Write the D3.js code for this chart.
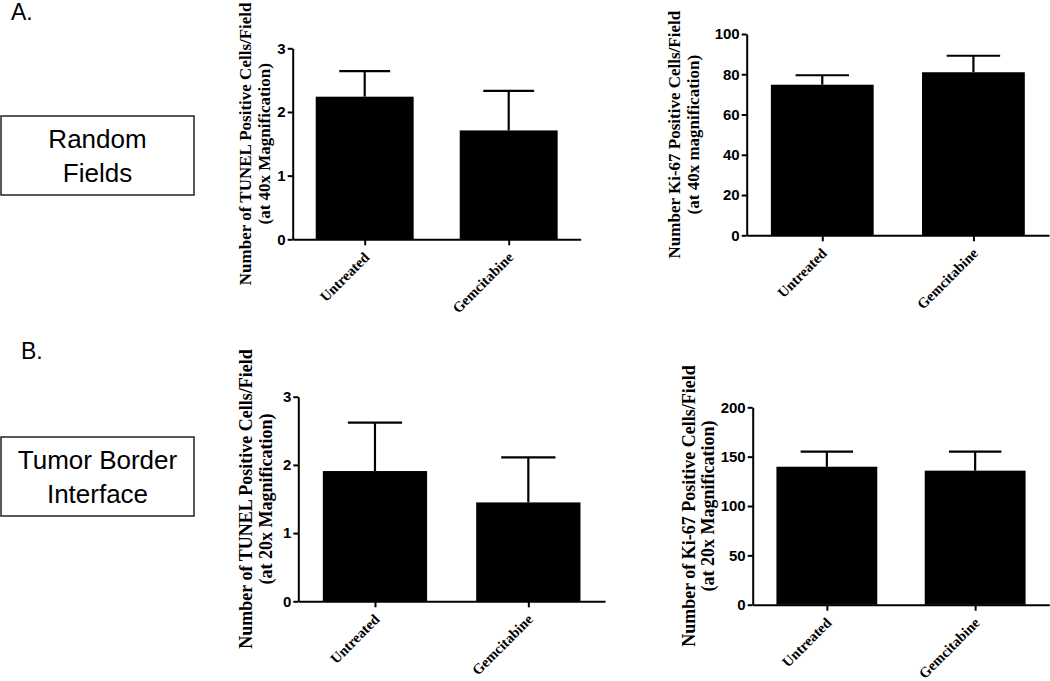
<!DOCTYPE html>
<html>
<head>
<meta charset="utf-8">
<script src="https://cdn.jsdelivr.net/npm/d3@7"></script>
<style>
  body { margin: 0; background: #fff; }
  .y.axis text { font-family: "Liberation Sans", Arial, sans-serif; font-weight: bold; font-size: 15px; fill: #000; }
  .x.axis text { font-family: "Liberation Serif", "Times New Roman", serif; font-weight: bold; font-size: 14.5px; fill: #000; }
  .axis path, .axis line { stroke: #000; stroke-width: 2; }
  .title { font-family: "Liberation Serif", "Times New Roman", serif; font-weight: bold; fill: #000; }
  .side { font-family: "Liberation Sans", Arial, sans-serif; fill: #000; }
</style>
</head>
<body>
<div class="container"></div>
<script>
const categories = ["Untreated", "Gemcitabine"];

// A. random fields
const tunel40Means = [2.24, 1.71];
const tunel40Sem = [0.40, 0.62];
const ki67At40Means = [74.8, 81.0];
const ki67At40Sem = [4.7, 8.2];

// B. tumor border interface
const tunel20Means = [1.91, 1.45];
const tunel20Sem = [0.71, 0.66];
const ki67At20Means = [139.8, 135.8];
const ki67At20Sem = [15.2, 19.2];

const tunelTicks = [0, 1, 2, 3];
const ki67At40Ticks = [0, 20, 40, 60, 80, 100];
const ki67At20Ticks = [0, 50, 100, 150, 200];

const panels = [
  { x0: 292.7, x1: 580.7, y0: 239.3, y1: 48.3, max: 3, means: tunel40Means, sem: tunel40Sem, ticks: tunelTicks,
    titles: ["Number of TUNEL Positive Cells/Field", "(at 40x Magnification)"], tx: [251, 270], fs: 17 },
  { x0: 746.7, x1: 1049, y0: 235.3, y1: 34, max: 100, means: ki67At40Means, sem: ki67At40Sem, ticks: ki67At40Ticks,
    titles: ["Number Ki-67 Positive Cells/Field", "(at 40x magnification)"], tx: [680, 699], fs: 17 },
  { x0: 298.3, x1: 605, y0: 601.3, y1: 396.7, max: 3, means: tunel20Means, sem: tunel20Sem, ticks: tunelTicks,
    titles: ["Number of TUNEL Positive Cells/Field", "(at 20x Magnification)"], tx: [252, 272], fs: 18 },
  { x0: 752.7, x1: 1049.3, y0: 604.7, y1: 407.3, max: 200, means: ki67At20Means, sem: ki67At20Sem, ticks: ki67At20Ticks,
    titles: ["Number of Ki-67 Positive Cells/Field", "(at 20x Magnification)"], tx: [695, 714], fs: 18 }
];

const svg = d3
  .select(".container")
  .append("svg")
  .attr("width", 1050)
  .attr("height", 681);

panels.forEach(p => {
  const x = d3.scalePoint().domain(categories).range([p.x0, p.x1]).padding(0.5);
  const y = d3.scaleLinear().domain([0, p.max]).range([p.y0, p.y1]);
  const barWidth = x.step() * 0.68;
  const capWidth = barWidth * 0.52;
  const g = svg.append("g");

  const rows = categories.map((c, i) => ({ c, mean: p.means[i], sem: p.sem[i] }));

  g.append("g")
    .selectAll("rect")
    .data(rows)
    .enter()
    .append("rect")
    .attr("x", d => x(d.c) - barWidth / 2)
    .attr("y", d => y(d.mean))
    .attr("width", barWidth)
    .attr("height", d => p.y0 - y(d.mean))
    .attr("fill", "#000");

  const err = g.append("g").attr("stroke", "#000").attr("stroke-width", 2.2);
  err.selectAll(".stem")
    .data(rows)
    .enter()
    .append("line")
    .attr("x1", d => x(d.c))
    .attr("x2", d => x(d.c))
    .attr("y1", d => y(d.mean))
    .attr("y2", d => y(d.mean + d.sem));
  err.selectAll(".cap")
    .data(rows)
    .enter()
    .append("line")
    .attr("x1", d => x(d.c) - capWidth / 2)
    .attr("x2", d => x(d.c) + capWidth / 2)
    .attr("y1", d => y(d.mean + d.sem))
    .attr("y2", d => y(d.mean + d.sem));

  g.append("g")
    .attr("class", "y axis")
    .attr("transform", `translate(${p.x0},0)`)
    .call(d3.axisLeft(y).tickValues(p.ticks).tickFormat(d3.format("d")).tickSize(5).tickSizeOuter(0).tickPadding(2));

  g.append("g")
    .attr("class", "x axis")
    .attr("transform", `translate(0,${p.y0})`)
    .call(d3.axisBottom(x).tickSize(6).tickSizeOuter(0))
    .selectAll("text")
    .attr("x", 0)
    .attr("y", 0)
    .attr("dy", 0)
    .attr("text-anchor", "end")
    .attr("transform", "translate(5,19) rotate(-45)");

  const cy = (p.y0 + p.y1) / 2;
  p.titles.forEach((t, i) => {
    g.append("text")
      .attr("class", "title")
      .attr("font-size", p.fs)
      .attr("text-anchor", "middle")
      .attr("transform", `translate(${p.tx[i]},${cy}) rotate(-90)`)
      .text(t);
  });
});

// side labels
svg.append("text").attr("class", "side").attr("x", 11).attr("y", 20).attr("font-size", 23).text("A.");
svg.append("text").attr("class", "side").attr("x", 21).attr("y", 359).attr("font-size", 23).text("B.");

const boxes = [
  { y: 116, lines: ["Random", "Fields"] },
  { y: 437, lines: ["Tumor Border", "Interface"] }
];
boxes.forEach(b => {
  svg.append("rect")
    .attr("x", 1).attr("y", b.y)
    .attr("width", 193).attr("height", 79)
    .attr("fill", "none").attr("stroke", "#222").attr("stroke-width", 1.5);
  b.lines.forEach((t, i) => {
    svg.append("text")
      .attr("class", "side")
      .attr("x", 97.5)
      .attr("y", b.y + 32 + i * 33.5)
      .attr("text-anchor", "middle")
      .attr("font-size", 26)
      .text(t);
  });
});
</script>
</body>
</html>
